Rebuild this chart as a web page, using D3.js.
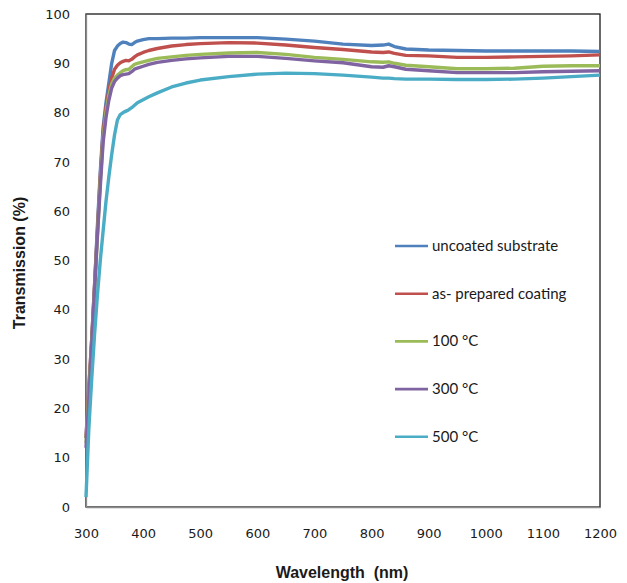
<!DOCTYPE html>
<html>
<head>
<meta charset="utf-8">
<script src="https://cdn.jsdelivr.net/npm/d3@7"></script>
<style>
  html, body { margin: 0; padding: 0; background: #fff; }
  svg { display: block; }
</style>
</head>
<body>
<svg id="chart" width="627" height="583"></svg>
<script>
// Wavelength sampling grid (nm)
const wavelength = [300, 305, 310, 315, 320, 325, 330, 335, 340, 345, 350, 355, 360, 365, 370, 375, 380, 385, 390, 400, 410, 425, 450, 475, 500, 550, 600, 650, 700, 750, 800, 820, 830, 840, 860, 900, 950, 1000, 1050, 1100, 1150, 1200];

// Transmission (%) for each sample
const uncoated = [14, 24, 34, 45, 57, 68, 77, 82, 86, 90, 92.6, 93.5, 94, 94.3, 94.2, 93.9, 93.8, 94.2, 94.5, 94.8, 95, 95, 95.1, 95.1, 95.2, 95.2, 95.2, 94.9, 94.5, 93.9, 93.6, 93.7, 93.9, 93.4, 92.9, 92.7, 92.6, 92.5, 92.5, 92.5, 92.5, 92.4];
const asPrepared = [14, 24, 34, 45, 56, 67, 76, 81, 84.5, 87, 88.8, 89.6, 90.1, 90.4, 90.6, 90.5, 90.8, 91.3, 91.7, 92.2, 92.6, 93, 93.5, 93.8, 94, 94.2, 94.1, 93.7, 93.2, 92.8, 92.3, 92.2, 92.3, 92, 91.6, 91.5, 91.2, 91.2, 91.3, 91.4, 91.5, 91.7];
const c100 = [13, 23, 33, 44, 55, 66, 75, 80, 83.5, 85.8, 87, 87.6, 88.1, 88.5, 88.7, 88.8, 89.3, 89.8, 90, 90.3, 90.6, 91, 91.3, 91.6, 91.8, 92.1, 92.2, 91.8, 91.2, 90.8, 90.3, 90.2, 90.3, 90, 89.6, 89.3, 88.9, 88.9, 89, 89.4, 89.5, 89.5];
const c300 = [12, 22, 33, 44, 55, 65, 74, 79, 82.5, 85, 86.3, 87, 87.5, 87.7, 87.8, 87.9, 88.3, 88.8, 89, 89.4, 89.8, 90.2, 90.6, 90.9, 91.1, 91.4, 91.4, 91, 90.5, 90.1, 89.3, 89.2, 89.5, 89.3, 88.8, 88.5, 88.1, 88.1, 88.1, 88.3, 88.4, 88.5];
const c500 = [2, 16, 26, 35, 43, 50, 56, 62, 67, 71.5, 75.5, 78.5, 79.6, 80, 80.3, 80.6, 81, 81.5, 82, 82.6, 83.2, 84, 85.2, 86, 86.6, 87.3, 87.8, 88, 87.9, 87.6, 87.2, 87, 87, 86.9, 86.8, 86.8, 86.7, 86.7, 86.8, 87, 87.3, 87.6];

const seriesNames = ["uncoated substrate", "as- prepared coating", "100 °C", "300 °C", "500 °C"];
const seriesValues = [uncoated, asPrepared, c100, c300, c500];
const seriesColors = ["#4F81BD", "#C0504D", "#9BBB59", "#8064A2", "#4BACC6"];

const xTicks = [300, 400, 500, 600, 700, 800, 900, 1000, 1100, 1200];
const yTicks = [0, 10, 20, 30, 40, 50, 60, 70, 80, 90, 100];

const svg = d3.select("#chart");
const plotLeft = 86, plotRight = 600, plotTop = 14, plotBottom = 507;

const x = d3.scaleLinear().domain([300, 1200]).range([plotLeft, plotRight]);
const y = d3.scaleLinear().domain([0, 100]).range([plotBottom, plotTop]);

// plot frame
svg.append("rect")
  .attr("x", plotLeft).attr("y", plotTop)
  .attr("width", plotRight - plotLeft).attr("height", plotBottom - plotTop)
  .attr("fill", "none").attr("stroke", "#1a1a1a").attr("stroke-width", 1.3);

// axes
const xAxis = d3.axisBottom(x).tickValues(xTicks).tickFormat(d3.format("d")).tickSize(0).tickPadding(22);
const yAxis = d3.axisLeft(y).tickValues(yTicks).tickFormat(d3.format("d")).tickSize(0).tickPadding(16);

const gx = svg.append("g").attr("transform", `translate(0,${plotBottom})`).call(xAxis);
const gy = svg.append("g").attr("transform", `translate(${plotLeft},0)`).call(yAxis);
[gx, gy].forEach(g => {
  g.select(".domain").attr("stroke", "#8c8c8c").attr("stroke-width", 1.3);
  g.selectAll("text")
    .attr("font-family", "DejaVu Sans, Verdana, sans-serif")
    .attr("font-size", 13)
    .attr("fill", "#1a1a1a");
});

// data lines
const line = d3.line()
  .x((d, i) => x(wavelength[i]))
  .y(d => y(d));

seriesValues.forEach((vals, k) => {
  svg.append("path")
    .datum(vals)
    .attr("d", line)
    .attr("fill", "none")
    .attr("stroke", seriesColors[k])
    .attr("stroke-width", 3.4)
    .attr("stroke-linejoin", "round");
});

// legend
const legend = svg.append("g").attr("transform", "translate(395,246)");
seriesNames.forEach((name, k) => {
  const g = legend.append("g").attr("transform", `translate(0,${k * 47.7})`);
  g.append("line").attr("x1", 0).attr("x2", 33).attr("y1", 0).attr("y2", 0)
    .attr("stroke", seriesColors[k]).attr("stroke-width", 2.6);
  g.append("text").attr("x", 37).attr("y", 5)
    .attr("font-family", "Lato, Open Sans, sans-serif")
    .attr("font-size", 15)
    .attr("fill", "#1a1a1a")
    .text(name);
});

// axis titles
svg.append("text")
  .attr("x", 342).attr("y", 578)
  .attr("text-anchor", "middle")
  .attr("font-family", "Liberation Sans, Arial, sans-serif")
  .attr("font-weight", "bold")
  .attr("font-size", 16)
  .attr("fill", "#1a1a1a")
  .style("white-space", "pre")
  .text("Wavelength  (nm)");

svg.append("text")
  .attr("transform", "translate(25,263) rotate(-90)")
  .attr("text-anchor", "middle")
  .attr("font-family", "Liberation Sans, Arial, sans-serif")
  .attr("font-weight", "bold")
  .attr("font-size", 16)
  .attr("fill", "#1a1a1a")
  .text("Transmission (%)");
</script>
</body>
</html>
